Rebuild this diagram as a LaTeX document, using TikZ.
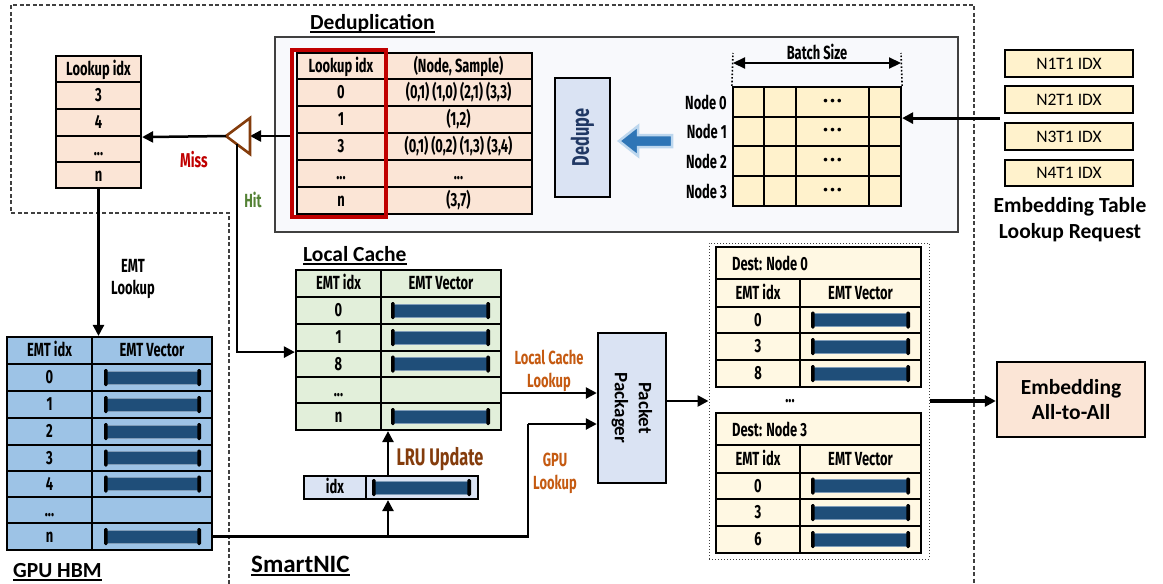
\documentclass[tikz,border=0pt]{standalone}
\usepackage{fontspec}
\usetikzlibrary{arrows.meta}
\setmainfont{Carlito}
\newfontfamily\cnd[FakeStretch=0.68]{Fira Sans}
\newfontfamily\fira{Fira Sans}
\newfontfamily\calib{Carlito}
\newcommand\cndf{\cnd\bfseries\fontsize{19}{19}\selectfont}
\newcommand\ttlf{\calib\bfseries\fontsize{21.5}{21.5}\selectfont}
\newcommand\elp{...}
\definecolor{peach}{HTML}{FBE5D6}
\definecolor{lgreen}{HTML}{E2EFDA}
\definecolor{gpublue}{HTML}{9DC3E6}
\definecolor{paleblue}{HTML}{DAE3F3}
\definecolor{yel}{HTML}{FFF2CC}
\definecolor{destyel}{HTML}{FFF8E3}
\definecolor{boxbg}{HTML}{F8F9FC}
\definecolor{vecblue}{HTML}{1F4E79}
\definecolor{vecedge}{HTML}{7F9CB8}
\definecolor{orangec}{HTML}{C55A11}
\definecolor{brownc}{HTML}{843C0C}
\definecolor{redc}{HTML}{C00000}
\definecolor{greenc}{HTML}{548235}
\definecolor{dedupc}{HTML}{203864}
\definecolor{arrdark}{HTML}{2E75B6}
\definecolor{arrlight}{HTML}{BDD7EE}
\definecolor{dashc}{HTML}{404040}
% an embedding vector drawn as a dark bar with black end caps: x1, x2, y
\newcommand\embvec[3]{%
  \path[fill=vecblue,draw=vecedge,line width=0.7pt] ({#1},{#3-6.5}) rectangle ({#2},{#3+6.5});
  \fill[black,rounded corners=1.3pt] ({#1-2},{#3-8.5}) rectangle ({#1+1.6},{#3+8.5});
  \fill[black,rounded corners=1.3pt] ({#2-1.6},{#3-8.5}) rectangle ({#2+2},{#3+8.5});}
\begin{document}
\begin{tikzpicture}[x=1pt,y=-1pt,
  cell/.style={draw=black,line width=2.2pt,inner sep=0pt,font=\cndf,text height=13pt,text depth=1pt},
  conn/.style={line width=2.5pt,-{Triangle[length=11pt,width=11pt]}},
  lbl/.style={inner sep=0pt,font=\cndf},
  ttl/.style={inner sep=0pt,font=\ttlf,anchor=base west}]
\fill[white] (0,0) rectangle (1163,584);
\useasboundingbox (0,0) rectangle (1163,584);

% SmartNIC region
\draw[dashc,line width=1.3pt,dash pattern=on 4pt off 2.5pt]
  (229,584) -- (229,213) -- (11,213) -- (11,5) -- (974,5) -- (974,584);

% Deduplication block
\node[ttl] (tDedup) at (310,29) {Deduplication};
\draw[line width=1.4pt] ([yshift=-3pt]tDedup.base west) -- ([yshift=-3pt]tDedup.base east);
\node[draw=dashc,line width=2pt,fill=boxbg,minimum width=683,minimum height=195] (dedupbox) at (616.5,134.5) {};

\foreach \ya/\yb/\ta/\tb [count=\i] in {53/79/Lookup idx/{(Node, Sample)},
    79/106/0/{(0,1) (1,0) (2,1) (3,3)}, 106/133/1/{(1,2)},
    133/160/3/{(0,1) (0,2) (1,3) (3,4)}, 160/187/\elp/\elp, 187/214/n/{(3,7)}}{
  \pgfmathsetmacro\ym{(\ya+\yb)/2}
  \node[cell,fill=peach,minimum width=88,minimum height={\yb-\ya}] (dd\i-1) at (341,\ym) {\ta};
  \node[cell,fill=peach,minimum width=147,minimum height={\yb-\ya}] (dd\i-2) at (458.5,\ym) {\tb};
}
\node[draw=redc,line width=3.4pt,minimum width=94,minimum height=167] (sel) at (339,133.5) {};

\node[draw=black,line width=2.2pt,fill=paleblue,minimum width=55,minimum height=119] (dedupe) at (582.5,137.5) {};
\node[rotate=90,inner sep=0pt,font=\cnd\bfseries\fontsize{24}{24}\selectfont,text=dedupc] (dedupelbl) at (dedupe) {Dedupe};

\path[fill=arrdark,draw=arrlight,line width=2.5pt,line join=miter]
  (619,141) -- (638,126) -- (638,135) -- (672,135) -- (672,147) -- (638,147) -- (638,156) -- cycle;

% batch grid
\foreach \ya/\yb [count=\ri from 0] in {87/117,117/146,146/176,176/206}{
  \pgfmathsetmacro\ym{(\ya+\yb)/2}
  \foreach \xa/\xb [count=\ci] in {733/764,764/796,796/869,869/901}{
    \node[cell,fill=yel,minimum width={\xb-\xa},minimum height={\yb-\ya}] (bg\ri-\ci) at ({(\xa+\xb)/2},\ym) {};
  }
  \node[inner sep=0pt,font=\fira\bfseries\fontsize{13}{13}\selectfont] (bgd\ri) at (bg\ri-3) {•\kern2.5pt•\kern2.5pt•};
  \node[lbl,anchor=east] (nl\ri) at (727,\ym) {Node \ri};
}
\coordinate (bsL) at (733,63);
\coordinate (bsR) at (901,63);
\draw[line width=1.6pt,dotted] (bg0-1.north west) -- (733,53);
\draw[line width=1.6pt,dotted] (bg0-4.north east) -- (901,53);
\draw[line width=2.2pt,{Triangle[length=12pt,width=11pt]}-{Triangle[length=12pt,width=11pt]}] (bsL) -- (bsR);
\node[lbl] (bslbl) at (817,52) {Batch Size};

% lookup requests
\foreach \ya/\yb/\txt [count=\i] in {50/77/N1T1 IDX,86/113/N2T1 IDX,123/150/N3T1 IDX,160/186/N4T1 IDX}{
  \node[draw=black,line width=2.2pt,fill=yel,inner sep=0pt,minimum width=128,minimum height={\yb-\ya},
    font=\calib\fontsize{17.5}{17.5}\selectfont] (req\i) at (1069,{(\ya+\yb)/2}) {\txt};
}
\node[inner sep=0pt,align=center,font=\calib\bfseries\fontsize{21.5}{26}\selectfont] (reqlbl) at (1070,220) {Embedding Table\\Lookup Request};
\draw[conn,line width=2.8pt] ([xshift=-4pt]req2.west |- bg0-4.south east) -- (bg0-4.south east);

% lookup idx list for missed entries
\foreach \ya/\yb/\txt [count=\i] in {56/82/Lookup idx,82/109/3,109/136/4,136/162/\elp,162/188/n}{
  \node[cell,fill=peach,minimum width=85,minimum height={\yb-\ya}] (lk\i) at (98.5,{(\ya+\yb)/2}) {\txt};
}

% hit / miss switch
\coordinate (triA) at (226,136);
\coordinate (triB) at (250,118);
\coordinate (triC) at (250,154);
\coordinate (triM) at (250,136);
\coordinate (hitS) at (237,144);
\draw[conn] (sel.west |- triM) -- (triM);
\draw[brownc,line width=2.6pt,fill=white,line join=miter] (triA) -- (triB) -- (triC) -- cycle;
\draw[conn] (triA) -- (lk3.south east);
\node[inner sep=0pt,font=\cnd\bfseries\fontsize{20}{20}\selectfont,text=redc] (miss) at (194,160) {Miss};
\node[inner sep=0pt,font=\cnd\bfseries\fontsize{19}{19}\selectfont,text=greenc] (hit) at (253,200) {Hit};

% local cache
\node[ttl] (tCache) at (303,261) {Local Cache};
\draw[line width=1.4pt] ([yshift=-3pt]tCache.base west) -- ([yshift=-3pt]tCache.base east);
\node[cell,fill=lgreen,minimum width=85,minimum height=27] (lc1-1) at (338.5,283.5) {EMT idx};
\node[cell,fill=lgreen,minimum width=120,minimum height=27] (lc1-2) at (441,283.5) {EMT Vector};
\foreach \ya/\yb/\txt/\hb [count=\i from 2] in {297/324/0/1,324/351/1/1,351/377/8/1,377/403/\elp/0,403/430/n/1}{
  \pgfmathsetmacro\ym{(\ya+\yb)/2}
  \node[cell,fill=lgreen,minimum width=85,minimum height={\yb-\ya}] (lc\i-1) at (338.5,\ym) {\txt};
  \node[cell,fill=lgreen,minimum width=120,minimum height={\yb-\ya}] (lc\i-2) at (441,\ym) {};
  \ifnum\hb=1 \embvec{393}{488}{\ym}\fi
}
\draw[conn] (hitS) |- (lc3-1.south west);

% LRU update entry
\node[cell,fill=paleblue,minimum width=62,minimum height=23] (idx1) at (335,487.5) {idx};
\node[cell,fill=paleblue,minimum width=112,minimum height=23] (idx2) at (422,487.5) {};
\embvec{374}{469}{487.5}
\coordinate (upBase) at (388,536.5);
\draw[conn] (upBase |- idx2.north) -- (upBase |- lc6-1.south);
\node[inner sep=0pt,font=\cnd\bfseries\fontsize{24}{24}\selectfont,text=brownc] (lru) at (440,459) {LRU Update};

% GPU HBM table
\node[cell,fill=gpublue,minimum width=85,minimum height=27] (g1-1) at (49.5,350.5) {EMT idx};
\node[cell,fill=gpublue,minimum width=120,minimum height=27] (g1-2) at (152,350.5) {EMT Vector};
\foreach \ya/\yb/\txt/\hb [count=\i from 2] in {364/391/0/1,391/418/1/1,418/445/2/1,445/471/3/1,471/497/4/1,497/523/\elp/0,523/550/n/1}{
  \pgfmathsetmacro\ym{(\ya+\yb)/2}
  \node[cell,fill=gpublue,minimum width=85,minimum height={\yb-\ya}] (g\i-1) at (49.5,\ym) {\txt};
  \node[cell,fill=gpublue,minimum width=120,minimum height={\yb-\ya}] (g\i-2) at (152,\ym) {};
  \ifnum\hb=1 \embvec{106}{199}{\ym}\fi
}
\node[ttl] (tGpu) at (13,577) {GPU HBM};
\draw[line width=1.4pt] ([yshift=-3pt]tGpu.base west) -- ([yshift=-3pt]tGpu.base east);
\draw[conn] (lk5.south) -- (lk5.south |- g1-2.north);
\node[lbl] (emtl1) at (133,266) {EMT};
\node[lbl] (emtl2) at (133,289) {Lookup};

\node[ttl,font=\calib\bfseries\fontsize{25}{25}\selectfont] (tNic) at (251,572) {SmartNIC};
\draw[line width=1.4pt] ([yshift=-3pt]tNic.base west) -- ([yshift=-3pt]tNic.base east);

% packet packager
\node[draw=black,line width=2.4pt,fill=paleblue,minimum width=68,minimum height=150] (pack) at (632,408) {};
\node[rotate=-90,inner sep=0pt,align=center,font=\calib\bfseries\fontsize{19}{24}\selectfont] (packlbl) at (pack) {Packet\\Packager};
\coordinate (lcOut) at ([yshift=-3pt]lc5-2.east);
\draw[conn] (lcOut) -- (lcOut -| pack.west);
\coordinate (gpuTurn) at (528,424);
\draw[line width=2.2pt] (g8-2.east) -| (gpuTurn);
\draw[conn] (gpuTurn) -- (gpuTurn -| pack.west);
\draw[conn] (upBase) -- (upBase |- idx2.south);
\node[inner sep=0pt,align=center,font=\cnd\bfseries\fontsize{19}{23}\selectfont,text=orangec] (lcl) at (549,371) {Local Cache\\Lookup};
\node[inner sep=0pt,align=center,font=\cnd\bfseries\fontsize{19}{23}\selectfont,text=orangec] (gpl) at (555,473) {GPU\\Lookup};

% per-destination packets
\node[draw=dashc,dotted,line width=1pt,minimum width=220,minimum height=316] (destbox) at (819,401) {};
\foreach \dy/\dn/\va/\vb/\vc in {247/0/0/3/8,413/3/0/3/6}{
  \node[cell,fill=destyel,minimum width=205,minimum height=32] (dt\dn-0) at (818.5,\dy+16) {};
  \node[lbl,anchor=west] (dtl\dn) at (732,\dy+16) {Dest: Node \dn};
  \node[cell,fill=destyel,minimum width=84,minimum height=28] (dt\dn-h1) at (758,\dy+46) {EMT idx};
  \node[cell,fill=destyel,minimum width=121,minimum height=28] (dt\dn-h2) at (860.5,\dy+46) {EMT Vector};
  \foreach \ra/\rb/\txt [count=\k] in {60/86/\va,86/113/\vb,113/140/\vc}{
    \pgfmathsetmacro\ym{\dy+(\ra+\rb)/2}
    \node[cell,fill=destyel,minimum width=84,minimum height={\rb-\ra}] (dt\dn-\k-1) at (758,\ym) {\txt};
    \node[cell,fill=destyel,minimum width=121,minimum height={\rb-\ra}] (dt\dn-\k-2) at (860.5,\ym) {};
    \embvec{813}{908}{\ym}
  }
}
\node[lbl] (destdots) at (790,401) {...};
\draw[conn] (pack.east |- destbox.west) -- (destbox.west);

% all-to-all exchange
\node[draw=black,line width=2.4pt,fill=peach,minimum width=148,minimum height=75,align=center,
  font=\calib\bfseries\fontsize{21.5}{25}\selectfont] (emb) at (1071,399.5) {Embedding\\All-to-All};
\draw[conn,line width=3.2pt] (destbox.east) -- (destbox.east -| emb.west);
\end{tikzpicture}
\end{document}
